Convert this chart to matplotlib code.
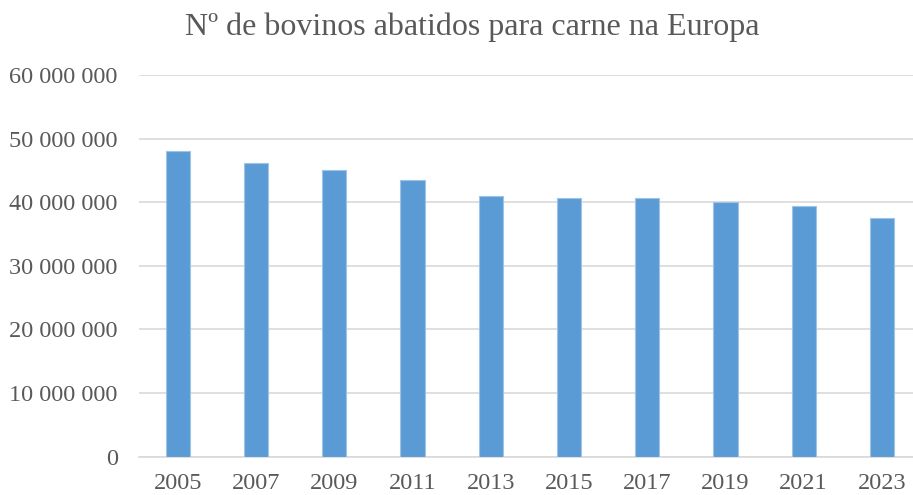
import matplotlib
matplotlib.use("Agg")
import matplotlib.pyplot as plt
from matplotlib.ticker import FuncFormatter

years = ["2005", "2007", "2009", "2011", "2013", "2015", "2017", "2019", "2021", "2023"]
values = [48.0e6, 46.2e6, 45.0e6, 43.5e6, 40.9e6, 40.6e6, 40.65e6, 40.0e6, 39.35e6, 37.5e6]
title = "Nº de bovinos abatidos para carne na Europa"
yticks = [0, 10e6, 20e6, 30e6, 40e6, 50e6, 60e6]

plt.rcParams['font.family'] = ['Liberation Serif', 'DejaVu Serif']
text_color = "#595959"
grid_color = "#D9D9D9"

fig = plt.figure(figsize=(9.13, 4.95), dpi=100)
ax = fig.add_axes([0.1518, 0.0774, 0.848, 0.7711])

x = list(range(len(years)))
ax.bar(x, values, width=0.31, color="#5B9BD5", edgecolor="#9DC3E6", linewidth=0.8, zorder=3)

ax.set_xlim(-0.5, 9.395)
ax.set_ylim(0, 60e6)
ax.set_yticks(yticks)
ax.yaxis.set_major_formatter(FuncFormatter(lambda v, p: f"{int(v):,}".replace(",", " ")))
ax.set_xticks(x)
ax.set_xticklabels(years)

ax.grid(axis="y", color=grid_color, linewidth=1.2, zorder=0)
for s in ["top", "right", "left"]:
    ax.spines[s].set_visible(False)
ax.spines["bottom"].set_color(grid_color)
ax.spines["bottom"].set_linewidth(1.2)
ax.tick_params(axis="both", length=0, labelsize=17.5, colors=text_color)
ax.tick_params(axis="y", pad=15)
ax.tick_params(axis="x", pad=11.5)

fig.text(0.517, 0.945, title, ha="center", va="center", fontsize=23, color=text_color)

fig.savefig("out.png", dpi=100)
